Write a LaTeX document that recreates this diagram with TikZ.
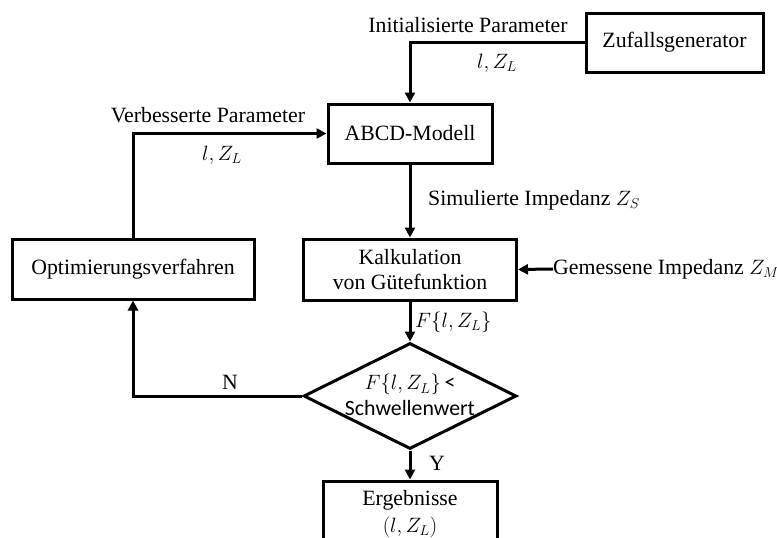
\documentclass[tikz,border=0pt]{standalone}
\usepackage{fontspec}
\setmainfont{Liberation Serif}
\newfontfamily\calib{Carlito}
\usetikzlibrary{arrows.meta,shapes.geometric}
\begin{document}
\begin{tikzpicture}[x=1pt,y=-1pt,
  every node/.style={font=\fontsize{21.8pt}{25.5pt}\selectfont, inner sep=0pt},
  box/.style={draw, line width=3pt, rectangle},
  decbox/.style={draw, line width=3pt, diamond, minimum width=213pt, minimum height=106pt},
  txt/.style={align=center},
  arr/.style={line width=3pt, -{Triangle[length=10pt,width=10pt]}},
  plain/.style={line width=3pt}]
\clip (0,0) rectangle (777,538);
\fill[white] (0,0) rectangle (777,538);

\node[box, minimum width=177pt, minimum height=59pt] (zuf) at (674.5,42.5) {Zufallsgenerator};
\node[box, minimum width=164pt, minimum height=59pt] (abcd) at (410,133.5) {ABCD-Modell};
\node[box, minimum width=242pt, minimum height=60pt] (opt) at (133,269) {Optimierungsverfahren};
\node[box, minimum width=213pt, minimum height=61pt, txt] (kalk) at (410,269.5) {Kalkulation\\von Gütefunktion};
\node[decbox] (dec) at (410,396) {};
\node[txt] (dectext) at (410,395) {$F\{l,Z_L\}$\,{\calib <}\\{\calib Schwellenwert}};
\node[box, minimum width=174pt, minimum height=90pt] (erg) at (410,526) {};
\node[txt, font=\fontsize{21.8pt}{27pt}\selectfont] (ergtext) at (410,514) {Ergebnisse\\$(l,Z_L)$};

\node[anchor=west] (gem) at (553,269) {Gemessene Impedanz $Z_M$};

\node (lab1) at (468,25) {Initialisierte Parameter};
\node (lab2) at (497,63) {$l,Z_L$};
\node (lab3) at (208,115) {Verbesserte Parameter};
\node (lab4) at (222,155) {$l,Z_L$};
\node[anchor=west] (lab5) at (428,200) {Simulierte Impedanz $Z_S$};
\node[anchor=west] (lab6) at (415,322) {$F\{l,Z_L\}$};
\node (lab7) at (230,382) {N};
\node (lab8) at (437,463) {Y};

\draw[arr] (zuf.west) -| (abcd.north);
\draw[arr] (opt.north) |- (abcd.west);
\draw[arr] (abcd.south) -- (kalk.north);
\draw[arr] (gem.west) -- (kalk.east);
\draw[arr] (kalk.south) -- (dec.north);
\draw[arr] (dec.west) -| (opt.south);
\draw[arr] (dec.south) -- (erg.north);
\end{tikzpicture}
\end{document}
